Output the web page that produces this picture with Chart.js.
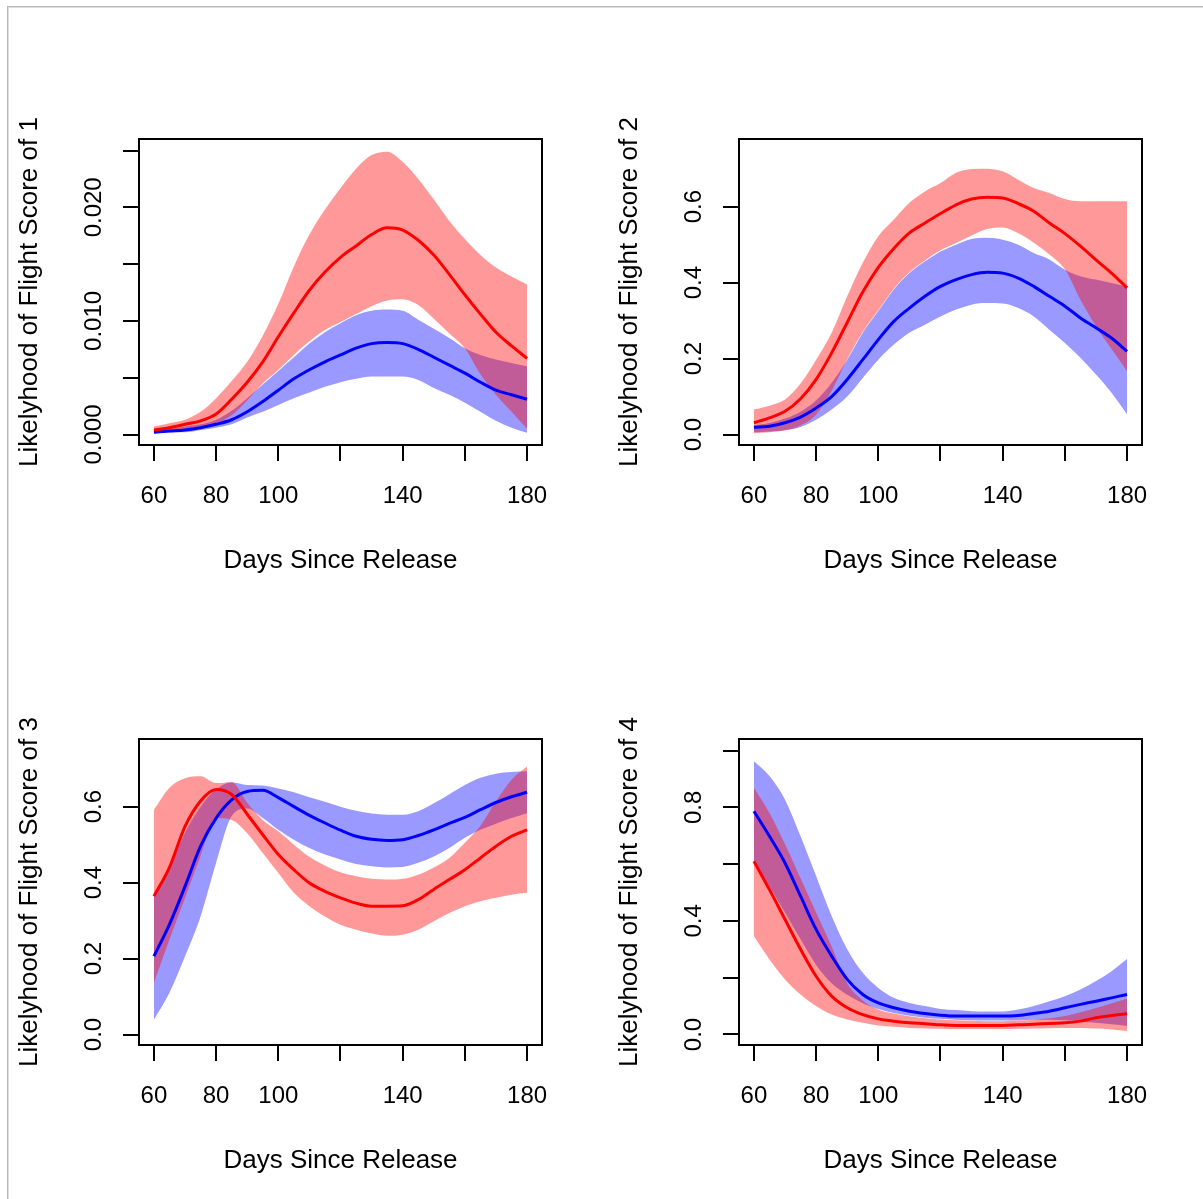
<!DOCTYPE html>
<html>
<head>
<meta charset="utf-8">
<script src="https://cdn.jsdelivr.net/npm/chart.js@4.4.1/dist/chart.umd.min.js"></script>
<style>
  html, body { margin: 0; padding: 0; background: #ffffff; }
  #page { position: relative; width: 1203px; height: 1199px; overflow: hidden; background: #ffffff; }
  #page canvas { position: absolute; }
  .fr { position: absolute; pointer-events: none; }
</style>
</head>
<body>
<div id="page">
  <div class="fr" style="left:7px;top:6px;width:1196px;height:1px;background:#b8b8b8;"></div>
  <div class="fr" style="left:8px;top:7px;width:1195px;height:1px;background:#dedede;"></div>
  <div class="fr" style="left:7px;top:6px;width:1px;height:1193px;background:#b8b8b8;"></div>
  <div class="fr" style="left:8px;top:7px;width:1px;height:1192px;background:#dedede;"></div>
  <canvas id="c1" width="600" height="600" style="left:0px;top:0px;"></canvas>
  <canvas id="c2" width="600" height="600" style="left:600px;top:0px;"></canvas>
  <canvas id="c3" width="600" height="600" style="left:0px;top:600px;"></canvas>
  <canvas id="c4" width="600" height="600" style="left:600px;top:600px;"></canvas>
</div>
<script>
// ---------------- data ----------------
const days = [60,65,70,75,80,85,90,95,100,105,110,115,120,125,130,135,140,145,150,155,160,165,170,175,180];

const xTicks = [60, 80, 100, 120, 140, 160, 180];
const xTickLabels = ['60', '80', '100', '', '140', '', '180'];
const xTitle = 'Days Since Release';

// Panel 1: Flight Score of 1
const p1RedFit  = [0.0004,0.0006,0.0009,0.0012,0.0018,0.0031,0.0046,0.0064,0.0086,0.0107,0.0127,0.0143,0.0156,0.0166,0.0176,0.0182,0.0180,0.0171,0.0158,0.0141,0.0123,0.0106,0.0090,0.0078,0.0067];
const p1RedHi   = [0.0007,0.0010,0.0013,0.0020,0.0032,0.0047,0.0064,0.0087,0.0115,0.0148,0.0176,0.0198,0.0217,0.0234,0.0246,0.0249,0.0240,0.0225,0.0207,0.0188,0.0172,0.0158,0.0147,0.0139,0.0132];
const p1RedLo   = [0.0002,0.0003,0.0005,0.0007,0.0010,0.0017,0.0030,0.0045,0.0057,0.0070,0.0082,0.0092,0.0099,0.0106,0.0113,0.0118,0.0119,0.0114,0.0102,0.0089,0.0076,0.0053,0.0035,0.0020,0.0005];
const p1BlueFit = [0.0002,0.0003,0.0004,0.0006,0.0009,0.0013,0.0020,0.0029,0.0039,0.0049,0.0057,0.0064,0.0070,0.0076,0.0080,0.0081,0.0080,0.0075,0.0068,0.0061,0.0054,0.0046,0.0039,0.0035,0.0031];
const p1BlueHi  = [0.0004,0.0005,0.0007,0.0009,0.0013,0.0021,0.0032,0.0044,0.0056,0.0068,0.0080,0.0090,0.0098,0.0105,0.0109,0.0110,0.0109,0.0101,0.0093,0.0085,0.0076,0.0070,0.0066,0.0063,0.0060];
const p1BlueLo  = [0.00015,0.0002,0.0002,0.0004,0.0006,0.0009,0.0015,0.0020,0.0026,0.0032,0.0037,0.0042,0.0046,0.0049,0.0051,0.0051,0.0051,0.0048,0.0041,0.0035,0.0028,0.0020,0.0012,0.0006,0.00015];
const p1YTicks = [0, 0.005, 0.010, 0.015, 0.020, 0.025];
const p1YTickLabels = ['0.000', '', '0.010', '', '0.020', ''];
const p1YTitle = 'Likelyhood of Flight Score of 1';

// Panel 2: Flight Score of 2
const p2RedFit  = [0.031,0.044,0.061,0.094,0.145,0.215,0.295,0.375,0.440,0.490,0.531,0.557,0.582,0.605,0.620,0.625,0.623,0.608,0.588,0.557,0.529,0.496,0.460,0.425,0.386];
const p2RedHi   = [0.066,0.076,0.092,0.134,0.197,0.268,0.364,0.452,0.522,0.566,0.610,0.640,0.662,0.689,0.699,0.700,0.693,0.671,0.649,0.636,0.620,0.614,0.614,0.614,0.614];
const p2RedLo   = [0.003,0.006,0.011,0.024,0.052,0.115,0.198,0.270,0.327,0.384,0.427,0.458,0.485,0.504,0.524,0.541,0.545,0.530,0.505,0.474,0.435,0.355,0.285,0.225,0.167];
const p2BlueFit = [0.019,0.022,0.031,0.046,0.070,0.100,0.145,0.197,0.250,0.298,0.333,0.364,0.390,0.408,0.421,0.427,0.425,0.412,0.390,0.364,0.338,0.307,0.281,0.254,0.219];
const p2BlueHi  = [0.024,0.030,0.042,0.060,0.090,0.136,0.197,0.268,0.325,0.382,0.425,0.456,0.482,0.500,0.515,0.518,0.513,0.500,0.478,0.461,0.434,0.417,0.408,0.399,0.390];
const p2BlueLo  = [0.006,0.008,0.011,0.020,0.039,0.066,0.100,0.149,0.197,0.237,0.268,0.289,0.311,0.329,0.342,0.346,0.345,0.333,0.311,0.276,0.241,0.202,0.158,0.110,0.053];
const p2YTicks = [0, 0.2, 0.4, 0.6];
const p2YTickLabels = ['0.0', '0.2', '0.4', '0.6'];
const p2YTitle = 'Likelyhood of Flight Score of 2';

// Panel 3: Flight Score of 3
const p3RedFit  = [0.364,0.440,0.548,0.615,0.645,0.632,0.580,0.526,0.474,0.434,0.399,0.377,0.360,0.346,0.338,0.338,0.339,0.355,0.382,0.408,0.434,0.465,0.496,0.522,0.539];
const p3RedHi   = [0.592,0.650,0.675,0.680,0.662,0.664,0.610,0.565,0.535,0.500,0.468,0.445,0.427,0.417,0.410,0.408,0.410,0.421,0.440,0.465,0.505,0.550,0.614,0.671,0.706];
const p3RedLo   = [0.136,0.250,0.360,0.470,0.570,0.565,0.530,0.478,0.425,0.373,0.338,0.311,0.289,0.276,0.266,0.260,0.263,0.276,0.298,0.320,0.338,0.351,0.360,0.368,0.373];
const p3BlueFit = [0.206,0.290,0.390,0.496,0.570,0.618,0.640,0.643,0.624,0.600,0.577,0.557,0.538,0.522,0.514,0.511,0.513,0.524,0.539,0.556,0.572,0.592,0.611,0.626,0.638];
const p3BlueHi  = [0.360,0.440,0.531,0.600,0.645,0.664,0.657,0.656,0.648,0.638,0.625,0.613,0.600,0.589,0.582,0.579,0.579,0.588,0.609,0.633,0.657,0.676,0.687,0.691,0.693];
const p3BlueLo  = [0.039,0.110,0.206,0.311,0.452,0.575,0.595,0.570,0.539,0.513,0.491,0.474,0.461,0.449,0.443,0.440,0.441,0.452,0.469,0.491,0.518,0.539,0.555,0.570,0.583];
const p3YTicks = [0, 0.2, 0.4, 0.6];
const p3YTickLabels = ['0.0', '0.2', '0.4', '0.6'];
const p3YTitle = 'Likelyhood of Flight Score of 3';

// Panel 4: Flight Score of 4
const p4RedFit  = [0.610,0.510,0.405,0.300,0.205,0.135,0.094,0.070,0.055,0.047,0.041,0.038,0.034,0.032,0.032,0.032,0.032,0.034,0.036,0.039,0.041,0.047,0.059,0.067,0.073];
const p4RedHi   = [0.869,0.780,0.670,0.550,0.430,0.310,0.180,0.120,0.088,0.074,0.064,0.057,0.053,0.050,0.048,0.047,0.047,0.049,0.052,0.057,0.065,0.078,0.093,0.110,0.126];
const p4RedLo   = [0.346,0.264,0.194,0.141,0.100,0.070,0.053,0.041,0.032,0.027,0.023,0.021,0.020,0.019,0.019,0.019,0.019,0.020,0.021,0.022,0.023,0.023,0.021,0.018,0.012];
const p4BlueFit = [0.786,0.698,0.604,0.487,0.370,0.276,0.194,0.141,0.111,0.094,0.082,0.074,0.068,0.065,0.065,0.065,0.065,0.067,0.074,0.082,0.094,0.106,0.117,0.129,0.141];
const p4BlueHi  = [0.962,0.910,0.827,0.698,0.558,0.417,0.300,0.217,0.164,0.129,0.111,0.100,0.090,0.086,0.082,0.081,0.081,0.088,0.100,0.117,0.135,0.158,0.188,0.223,0.266];
const p4BlueLo  = [0.610,0.520,0.430,0.335,0.245,0.180,0.140,0.110,0.090,0.076,0.066,0.059,0.055,0.052,0.050,0.049,0.049,0.050,0.052,0.052,0.050,0.046,0.041,0.036,0.030];
const p4YTicks = [0, 0.2, 0.4, 0.6, 0.8, 1.0];
const p4YTickLabels = ['0.0', '', '0.4', '', '0.8', ''];
const p4YTitle = 'Likelyhood of Flight Score of 4';

// axis ranges (R style: data range extended by 4%)
const xRange = [55.2, 184.8];
const yRanges = [[-0.000924, 0.026013], [-0.02765, 0.7782], [-0.02765, 0.7782], [-0.037, 1.0405]];

// ---------------- drawing ----------------
const RED = '#ff0000', BLUE = '#0000ff';
const RED_BAND = 'rgba(255,0,0,0.4)', BLUE_BAND = 'rgba(0,0,255,0.4)';
const FONT_FAMILY = '"Liberation Sans", Arial, Helvetica, sans-serif';

const rAxes = {
  id: 'rAxes',
  afterDraw(chart, args, opts) {
    const ctx = chart.ctx;
    const a = chart.chartArea;
    const xs = chart.scales.x, ys = chart.scales.y;
    ctx.save();
    ctx.strokeStyle = '#000';
    ctx.fillStyle = '#000';
    ctx.lineWidth = 2;
    // box
    ctx.strokeRect(a.left, a.top, a.right - a.left, a.bottom - a.top);
    // ticks
    ctx.beginPath();
    xTicks.forEach(v => {
      const px = Math.round(xs.getPixelForValue(v));
      ctx.moveTo(px, a.bottom); ctx.lineTo(px, a.bottom + 16);
    });
    opts.yTicks.forEach(v => {
      const py = Math.round(ys.getPixelForValue(v));
      ctx.moveTo(a.left - 16, py); ctx.lineTo(a.left, py);
    });
    ctx.stroke();
    // tick labels
    ctx.font = '24px ' + FONT_FAMILY;
    ctx.textAlign = 'center';
    ctx.textBaseline = 'middle';
    xTicks.forEach((v, i) => {
      if (xTickLabels[i]) ctx.fillText(xTickLabels[i], xs.getPixelForValue(v), a.bottom + 51);
    });
    opts.yTicks.forEach((v, i) => {
      const lab = opts.yTickLabels[i];
      if (!lab) return;
      ctx.save();
      ctx.translate(a.left - 45, ys.getPixelForValue(v));
      ctx.rotate(-Math.PI / 2);
      ctx.fillText(lab, 0, 0);
      ctx.restore();
    });
    // titles
    ctx.font = '26px ' + FONT_FAMILY;
    ctx.fillText(xTitle, (a.left + a.right) / 2, a.bottom + 116);
    ctx.save();
    ctx.translate(a.left - 109, (a.top + a.bottom) / 2);
    ctx.rotate(-Math.PI / 2);
    ctx.fillText(opts.yTitle, 0, 0);
    ctx.restore();
    ctx.restore();
  }
};

function toXY(arr) { return days.map((d, i) => ({ x: d, y: arr[i] })); }

function lineDs(label, arr, color) {
  return { label, data: toXY(arr), borderColor: color, borderWidth: 3, pointRadius: 0,
           fill: false, cubicInterpolationMode: 'monotone' };
}
function bandDs(label, arr, color, fill) {
  return { label, data: toXY(arr), borderColor: 'rgba(0,0,0,0)', borderWidth: 0, pointRadius: 0,
           backgroundColor: color, fill: fill, cubicInterpolationMode: 'monotone' };
}

function makePanel(id, idx, s) {
  new Chart(document.getElementById(id), {
    type: 'line',
    data: {
      datasets: [
        lineDs('Red fit', s.redFit, RED),
        lineDs('Blue fit', s.blueFit, BLUE),
        bandDs('Red upper', s.redHi, RED_BAND, '+1'),
        bandDs('Red lower', s.redLo, RED_BAND, false),
        bandDs('Blue upper', s.blueHi, BLUE_BAND, '+1'),
        bandDs('Blue lower', s.blueLo, BLUE_BAND, false)
      ]
    },
    options: {
      responsive: false,
      animation: false,
      events: [],
      layout: { padding: { left: 139, top: 139, right: 58, bottom: 155 } },
      scales: {
        x: { type: 'linear', min: xRange[0], max: xRange[1], display: false },
        y: { type: 'linear', min: yRanges[idx][0], max: yRanges[idx][1], display: false }
      },
      plugins: {
        legend: { display: false },
        tooltip: { enabled: false },
        filler: { drawTime: 'beforeDatasetsDraw' },
        rAxes: { yTicks: s.yTicks, yTickLabels: s.yTickLabels, yTitle: s.yTitle }
      }
    },
    plugins: [rAxes]
  });
}

makePanel('c1', 0, { redFit: p1RedFit, redHi: p1RedHi, redLo: p1RedLo, blueFit: p1BlueFit, blueHi: p1BlueHi, blueLo: p1BlueLo,
                     yTicks: p1YTicks, yTickLabels: p1YTickLabels, yTitle: p1YTitle });
makePanel('c2', 1, { redFit: p2RedFit, redHi: p2RedHi, redLo: p2RedLo, blueFit: p2BlueFit, blueHi: p2BlueHi, blueLo: p2BlueLo,
                     yTicks: p2YTicks, yTickLabels: p2YTickLabels, yTitle: p2YTitle });
makePanel('c3', 2, { redFit: p3RedFit, redHi: p3RedHi, redLo: p3RedLo, blueFit: p3BlueFit, blueHi: p3BlueHi, blueLo: p3BlueLo,
                     yTicks: p3YTicks, yTickLabels: p3YTickLabels, yTitle: p3YTitle });
makePanel('c4', 3, { redFit: p4RedFit, redHi: p4RedHi, redLo: p4RedLo, blueFit: p4BlueFit, blueHi: p4BlueHi, blueLo: p4BlueLo,
                     yTicks: p4YTicks, yTickLabels: p4YTickLabels, yTitle: p4YTitle });
</script>
</body>
</html>
